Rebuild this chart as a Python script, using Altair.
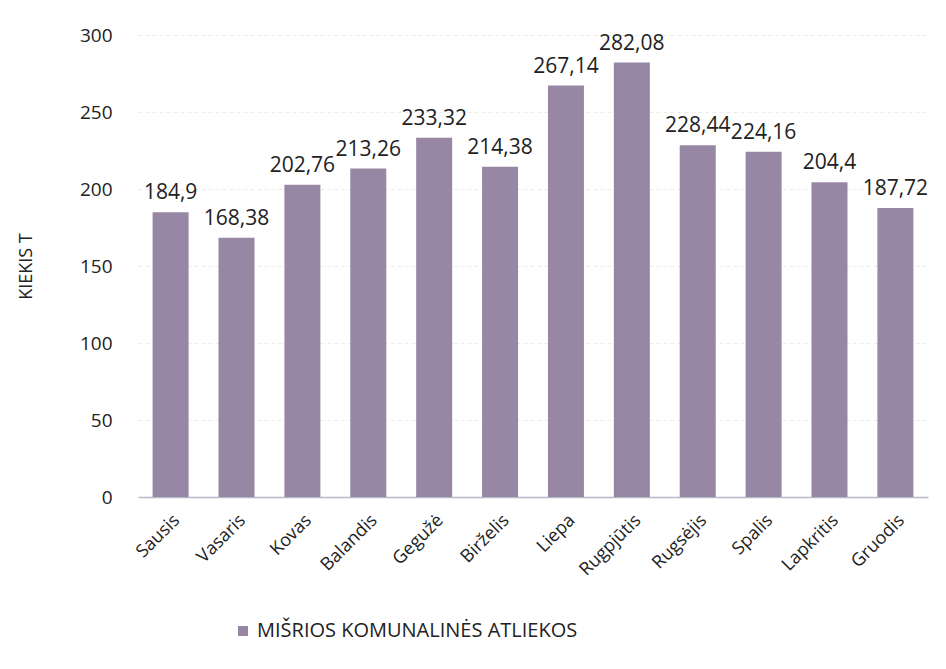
import altair as alt
import pandas as pd

months = ["Sausis", "Vasaris", "Kovas", "Balandis", "Gegužė", "Birželis",
          "Liepa", "Rugpjūtis", "Rugsėjis", "Spalis", "Lapkritis", "Gruodis"]
values = [184.9, 168.38, 202.76, 213.26, 233.32, 214.38,
          267.14, 282.08, 228.44, 224.16, 204.4, 187.72]
series_name = "MIŠRIOS KOMUNALINĖS ATLIEKOS"
y_ticks = [0, 50, 100, 150, 200, 250, 300]

df = pd.DataFrame({
    "month": months,
    "value": values,
    "label": [str(v).replace(".", ",") for v in values],
    "series": [series_name] * len(months),
})

FONT = "Open Sans"
BAR = "#9786a4"

x = alt.X("month:N", sort=months, title=None,
          scale=alt.Scale(paddingInner=0.45, paddingOuter=0.22),
          axis=alt.Axis(labelAngle=-45, labelFontSize=18, labelColor="#222",
                        labelFont=FONT, labelPadding=14, ticks=False,
                        domainColor="#b8b8c8", domainWidth=1.5, grid=False))

bars = alt.Chart(df).mark_bar(size=36).encode(
    x=x,
    y=alt.Y("value:Q", title="KIEKIS T",
            scale=alt.Scale(domain=[0, 300]),
            axis=alt.Axis(values=y_ticks, ticks=False, domain=False,
                          labelFontSize=19, labelColor="#222", labelFont=FONT,
                          labelPadding=26, gridColor="#ececec", gridDash=[4, 3],
                          titleFont=FONT, titleFontSize=18, titleFontWeight="normal",
                          titleColor="#222", titlePadding=44)),
    color=alt.Color("series:N", scale=alt.Scale(range=[BAR]),
                    legend=alt.Legend(title=None, orient="none", legendX=95,
                                      legendY=586, symbolType="square",
                                      symbolSize=100, labelFontSize=20,
                                      labelFont=FONT, labelColor="#222",
                                      labelLimit=0, symbolStrokeWidth=0)),
)

text = alt.Chart(df).mark_text(dy=-19, fontSize=21, font=FONT, color="#222").encode(
    x=alt.X("month:N", sort=months),
    y=alt.Y("value:Q"),
    text="label:N",
)

chart = (bars + text).properties(
    width=790, height=462,
    background="white",
    autosize=alt.AutoSizeParams(type="none"),
    padding={"left": 130, "top": 27, "right": 10, "bottom": 150},
).configure_view(stroke=None)

chart.save("out.html", embed_options={"renderer": "svg", "actions": False})
